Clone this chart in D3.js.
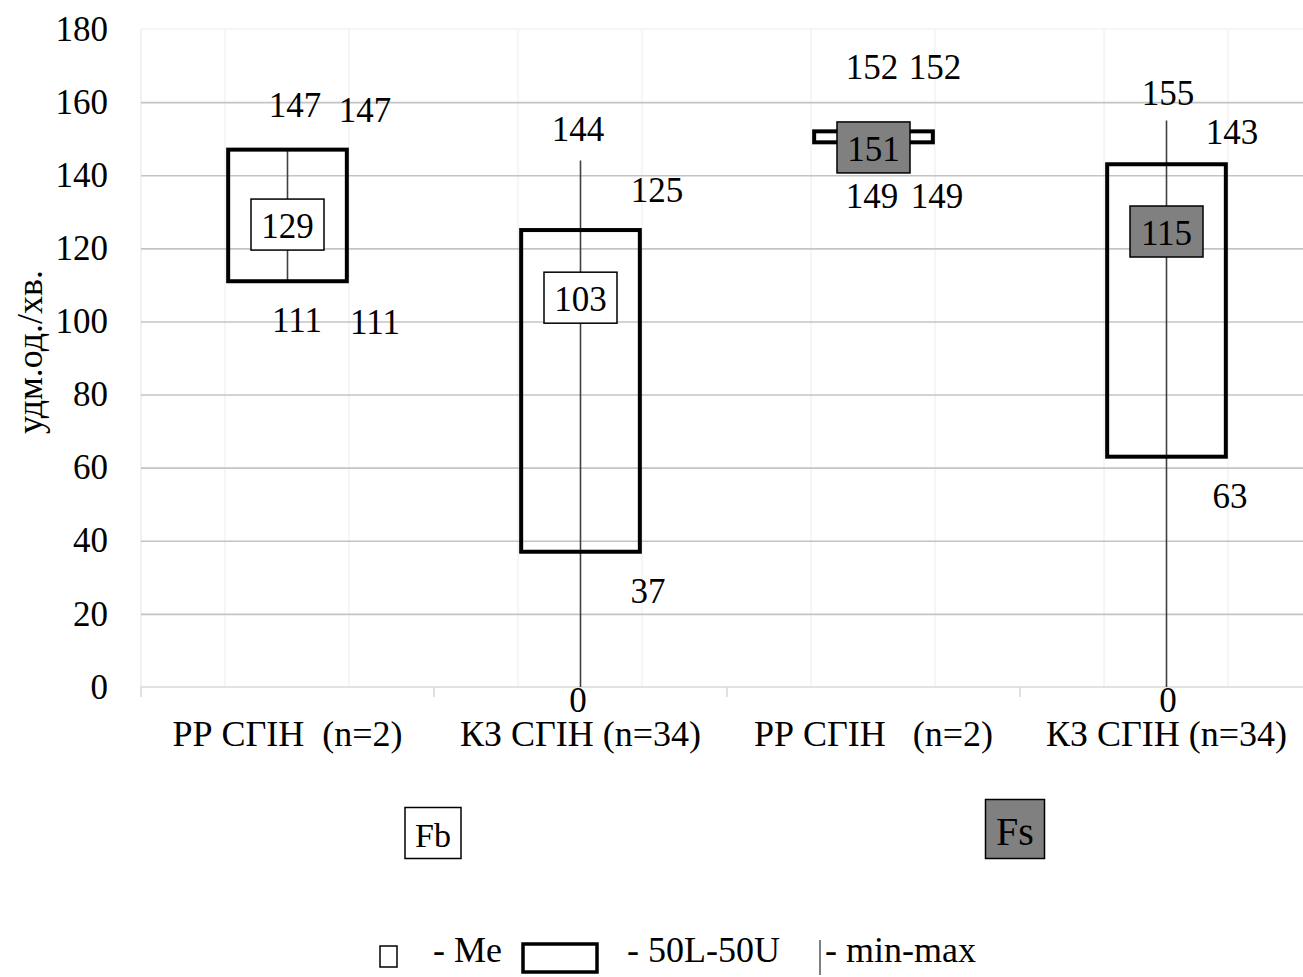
<!DOCTYPE html>
<html><head><meta charset="utf-8">
<script src="https://cdn.jsdelivr.net/npm/d3@7"></script>
<style>
html,body{margin:0;padding:0;background:#fff;}
svg{display:block;font-family:"Liberation Serif","Times New Roman",serif;}
</style></head>
<body><svg id="c" width="1303" height="977"></svg>
<script>
// ---- data ----
const categories = ["РР СГІН  (n=2)", "КЗ СГІН (n=34)", "РР СГІН   (n=2)", "КЗ СГІН (n=34)"];
const groups = ["Fb", "Fb", "Fs", "Fs"];
const mins    = [111, 0, 149, 0];
const q1      = [111, 37, 149, 63];
const medians = [129, 103, 151, 115];
const q3      = [147, 125, 152, 143];
const maxs    = [147, 144, 152, 155];
const yTicks  = [0, 20, 40, 60, 80, 100, 120, 140, 160, 180];
// data labels: category index, text, anchor value (data units)
const labelCat    = [0, 0, 0, 0, 1, 1, 1, 1, 2, 2, 2, 2, 3, 3, 3, 3];
const labelText   = ["147","147","111","111","144","125","37","0","152","152","149","149","155","143","63","0"];
const labelAnchor = [159.1, 157.8, 100.2, 99.6, 152.6, 135.8, 26.1, -3.6, 169.6, 169.6, 134.2, 134.2, 162.4, 151.7, 52.1, -3.6];
const medianAnchor = [126.5, 106.5, 147.6, 124.6];
const legendItems = ["- Me", "- 50L-50U", "- min-max"];

// ---- layout ----
const svg = d3.select("#c");
const pL = 141, pR = 1313, pT = 29, pB = 687;
const FS = 35;
// horizontal nudges of data labels from the category centre (px)
const labelDx = [7.5, 77.5, 9.5, 87.5, -2.5, 76.5, 67.5, -2.5, -1.5, 61.5, -1.5, 63.5, 1.5, 65.5, 63.5, 1.5];
const x = d3.scaleBand().domain(d3.range(categories.length)).range([pL, pR]).paddingInner(0).paddingOuter(0);
const y = d3.scaleLinear().domain([0, 180]).range([pB, pT]);
const cx = i => x(i) + x.bandwidth() / 2;
const boxW = x.bandwidth() * 0.405;
const medW = 73, medH = 51;
const fillOf = g => g === "Fs" ? "#808080" : "#ffffff";

// faint ghost verticals at box edges
const ghost = svg.append("g");
d3.range(categories.length).forEach(i => {
  [cx(i) - boxW/2 - 3, cx(i) + boxW/2 + 2].forEach(xx => {
    ghost.append("line").attr("x1", xx).attr("x2", xx).attr("y1", pT).attr("y2", pB)
      .attr("stroke", "#f5f5f5").attr("stroke-width", 2);
  });
});
svg.append("line").attr("x1", pL).attr("x2", 1303).attr("y1", y(180)).attr("y2", y(180))
  .attr("stroke", "#f3f3f3").attr("stroke-width", 1.5);
svg.append("line").attr("x1", pL).attr("x2", pL).attr("y1", pT).attr("y2", pB)
  .attr("stroke", "#ececec").attr("stroke-width", 1.5);

// gridlines
const grid = svg.append("g").attr("transform", `translate(${pL},0)`)
  .call(d3.axisLeft(y).tickValues(yTicks.filter(v => v > 0 && v < 180)).tickSize(-(1303 - pL)).tickFormat(""));
grid.select(".domain").remove();
grid.selectAll("line").attr("stroke", "#c4c4c4").attr("stroke-width", 1.6);

// y axis labels
const ya = svg.append("g").attr("transform", `translate(${pL},0)`)
  .call(d3.axisLeft(y).tickValues(yTicks).tickSize(0).tickPadding(33));
ya.select(".domain").remove();
ya.selectAll("text").attr("font-size", FS).attr("font-family", "Liberation Serif").attr("fill", "#000");

// x axis line and ticks
svg.append("line").attr("x1", pL).attr("x2", 1303).attr("y1", pB).attr("y2", pB)
  .attr("stroke", "#d9d9d9").attr("stroke-width", 1.6);
d3.range(categories.length).forEach(i => {
  svg.append("line").attr("x1", x(i)).attr("x2", x(i)).attr("y1", pB).attr("y2", pB + 10)
    .attr("stroke", "#d9d9d9").attr("stroke-width", 1.6);
});
// x labels
const xa = svg.append("g").attr("transform", `translate(0,${pB})`)
  .call(d3.axisBottom(x).tickSize(0).tickPadding(0).tickFormat(i => categories[i]));
xa.select(".domain").remove();
xa.selectAll("text").attr("y", 47).attr("dy", null).attr("dominant-baseline", "central")
  .attr("font-size", 36).attr("font-family", "Liberation Serif").attr("fill", "#000")
  .style("white-space", "pre");

// y title
svg.append("text").attr("transform", `translate(30,352) rotate(-90)`)
  .attr("text-anchor", "middle").attr("dominant-baseline", "central")
  .attr("font-size", 36).text("удм.од./хв.");

// boxes
const plot = svg.append("g");
d3.range(categories.length).forEach(i => {
  plot.append("line").attr("x1", cx(i)).attr("x2", cx(i)).attr("y1", y(mins[i])).attr("y2", y(maxs[i]))
    .attr("stroke", "#404040").attr("stroke-width", 1.6);
  plot.append("rect").attr("x", cx(i) - boxW/2).attr("y", y(q3[i]))
    .attr("width", boxW).attr("height", y(q1[i]) - y(q3[i]))
    .attr("fill", "none").attr("stroke", "#000").attr("stroke-width", 4);
});

// data labels
labelText.forEach((t, k) => {
  const i = labelCat[k];
  svg.append("text").attr("x", cx(i) + labelDx[k]).attr("y", y(labelAnchor[k]))
    .attr("text-anchor", "middle")
    .attr("dominant-baseline", "central").attr("font-size", FS).text(t);
});

// median labels
medians.forEach((m, i) => {
  const yy = y(medianAnchor[i]);
  svg.append("rect").attr("x", cx(i) - medW/2).attr("y", yy - medH/2).attr("width", medW).attr("height", medH)
    .attr("fill", fillOf(groups[i])).attr("stroke", "#000").attr("stroke-width", 1.5);
  svg.append("text").attr("x", cx(i)).attr("y", yy + 2).attr("text-anchor", "middle")
    .attr("dominant-baseline", "central").attr("font-size", FS).text(m);
});

// group tags
const groupNames = ["Fb", "Fs"];
[[433, 833, 56, 51, 34], [1015, 829, 59, 59, 40]].forEach((p, j) => {
  svg.append("rect").attr("x", p[0] - p[2]/2).attr("y", p[1] - p[3]/2).attr("width", p[2]).attr("height", p[3])
    .attr("fill", fillOf(groupNames[j])).attr("stroke", "#000").attr("stroke-width", 1.5);
  svg.append("text").attr("x", p[0]).attr("y", p[1] + 2).attr("text-anchor", "middle")
    .attr("dominant-baseline", "central").attr("font-size", p[4]).text(groupNames[j]);
});

// legend
const ly = 950;
svg.append("rect").attr("x", 380).attr("y", 946).attr("width", 17).attr("height", 21)
  .attr("fill", "#fff").attr("stroke", "#000").attr("stroke-width", 1.5);
svg.append("text").attr("x", 433).attr("y", ly).attr("dominant-baseline", "central").attr("font-size", 36).text(legendItems[0]);
svg.append("rect").attr("x", 523).attr("y", 944).attr("width", 74).attr("height", 28)
  .attr("fill", "#fff").attr("stroke", "#000").attr("stroke-width", 3.5);
svg.append("text").attr("x", 627).attr("y", ly).attr("dominant-baseline", "central").attr("font-size", 36).text(legendItems[1]);
svg.append("line").attr("x1", 820).attr("x2", 820).attr("y1", 940).attr("y2", 975).attr("stroke", "#000").attr("stroke-width", 1);
svg.append("text").attr("x", 825).attr("y", ly).attr("dominant-baseline", "central").attr("font-size", 36).text(legendItems[2]);
</script></body></html>
